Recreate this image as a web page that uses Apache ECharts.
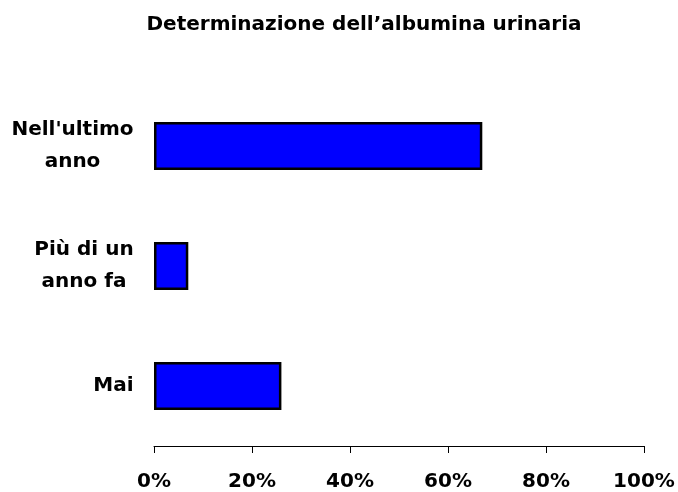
<!DOCTYPE html>
<html>
<head>
<meta charset="utf-8">
<script src="https://cdn.jsdelivr.net/npm/echarts@6/dist/echarts.min.js"></script>
<style>html,body{margin:0;padding:0;background:#fff}#c{width:678px;height:492px}</style>
</head>
<body>
<div id="c"></div>
<script>
const titleText = "Determinazione dell\u2019albumina urinaria";
const categories = ["Nell'ultimo\nanno", "Più di un\nanno fa", "Mai"];
const values = [67, 7, 26];
const tickLabels = ["0%", "20%", "40%", "60%", "80%", "100%"];

const FONT = '"DejaVu Sans", sans-serif';
const cv = document.createElement('canvas').getContext('2d');
cv.font = 'bold 20px "DejaVu Sans"';
const rich = {};
categories.forEach((c, i) => {
  const lines = c.split('\n');
  const w = Math.max(...lines.map(l => cv.measureText(l).width));
  rich['c' + i] = {width: Math.ceil(w), align: 'center', fontFamily: FONT, fontWeight: 'bold', fontSize: 20, lineHeight: 32, color: '#000'};
});

const chart = echarts.init(document.getElementById('c'), null, {renderer: 'canvas'});
chart.setOption({
  animation: false,
  backgroundColor: '#fff',
  title: {
    text: titleText,
    left: 359, top: 10, textAlign: 'center',
    textStyle: {fontFamily: FONT, fontWeight: 'bold', fontSize: 20, color: '#000'}
  },
  grid: {left: 154, right: 34, top: 86, bottom: 46, containLabel: false},
  xAxis: {
    type: 'value', min: 0, max: 100, interval: 20,
    axisLine: {show: true, lineStyle: {color: '#000', width: 1}},
    axisTick: {show: true, length: 7, lineStyle: {color: '#000', width: 1}},
    splitLine: {show: false},
    axisLabel: {
      margin: 26, color: '#000', fontFamily: FONT, fontWeight: 'bold', fontSize: 20,
      formatter: v => tickLabels[Math.round(v / 20)]
    }
  },
  yAxis: {
    type: 'category', data: categories, inverse: true,
    axisLine: {show: false}, axisTick: {show: false}, splitLine: {show: false},
    axisLabel: {
      margin: 20, color: '#000', fontFamily: FONT, fontWeight: 'bold', fontSize: 20, lineHeight: 32,
      rich: rich,
      formatter: (val, idx) => val.split('\n').map(l => '{c' + idx + '|' + l + '}').join('\n')
    }
  },
  series: [{
    type: 'bar', data: values, barWidth: 48,
    itemStyle: {color: '#0000FF', borderColor: '#000', borderWidth: 2.5}
  }]
});
</script>
</body>
</html>
